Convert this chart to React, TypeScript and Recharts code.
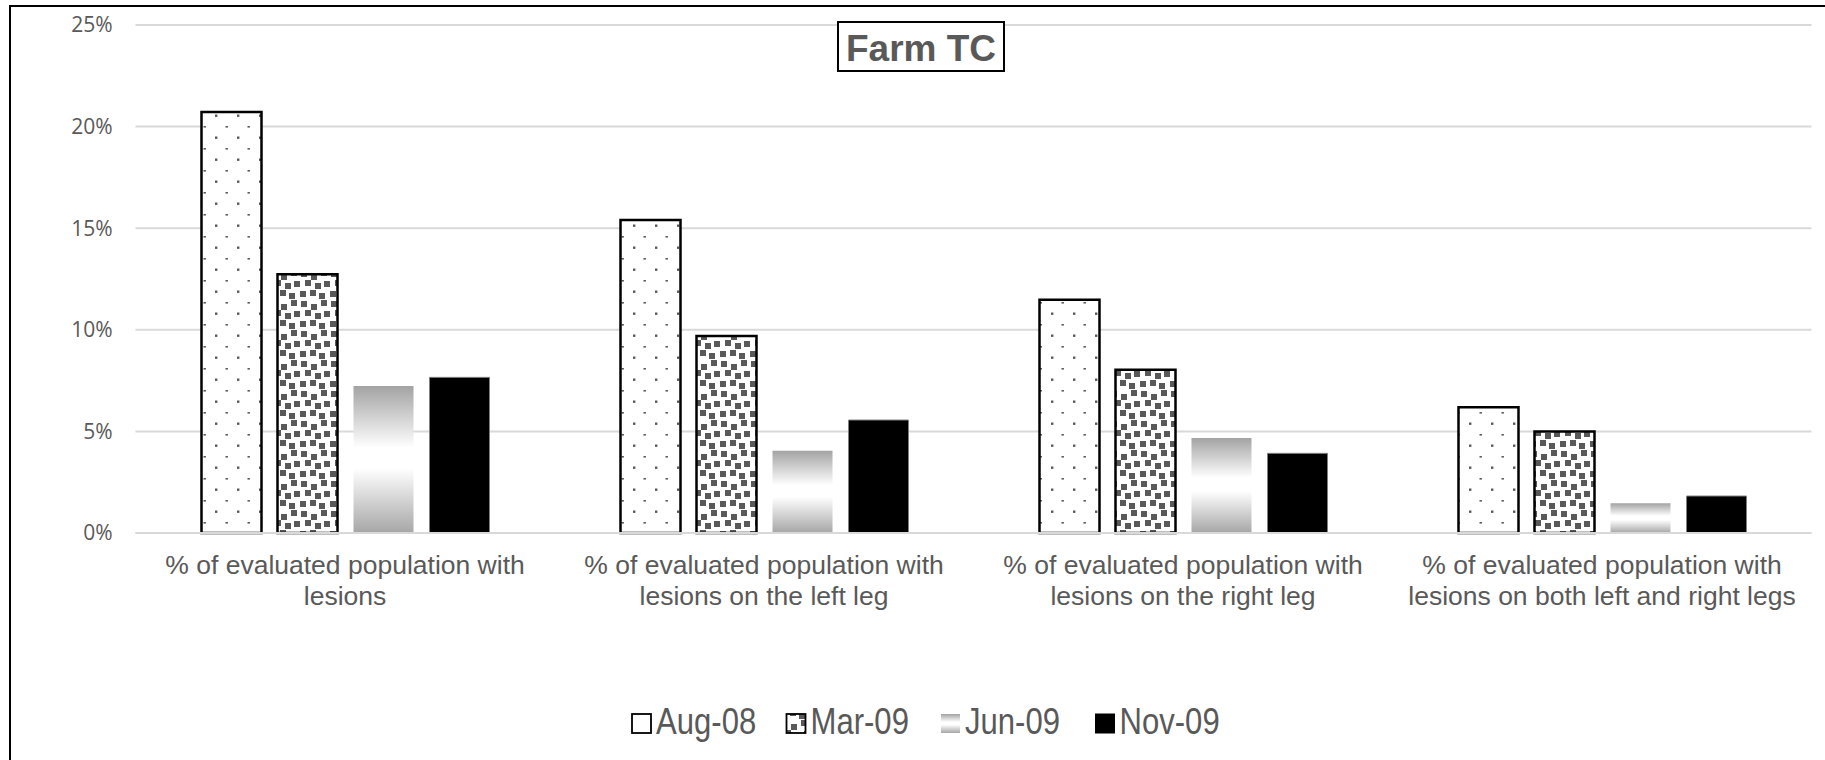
import React from "react";
import { BarChart, Bar, XAxis, YAxis, CartesianGrid, Legend } from "recharts";

const categories = [
  "% of evaluated population with lesions",
  "% of evaluated population with lesions on the left leg",
  "% of evaluated population with lesions on the right leg",
  "% of evaluated population with lesions on both left and right legs",
];
const aug08 = [20.72, 15.4, 11.48, 6.19];
const mar09 = [12.73, 9.69, 8.04, 5.0];
const jun09 = [7.23, 4.05, 4.68, 1.46];
const nov09 = [7.66, 5.56, 3.92, 1.82];
const yTicks = [0, 5, 10, 15, 20, 25];
const seriesNames = ["Aug-08", "Mar-09", "Jun-09", "Nov-09"];
const chartTitle = "Farm TC";

const data = categories.map((c, i) => ({
  name: c,
  aug08: aug08[i],
  mar09: mar09[i],
  jun09: jun09[i],
  nov09: nov09[i],
}));

const seriesKeys = ["aug08", "mar09", "jun09", "nov09"];
const fills = ["url(#dotsPat)", "url(#confettiPat)", "url(#grayGrad)", "#000000"];
const strokes = ["#000000", "#000000", "none", "#7f7f7f"];
const strokeWidths = [2.5, 2.5, 0, 1];

const textColor = "#595959";
const arialStack = "'Liberation Sans', Arial, sans-serif";

function splitLabel(s: string): string[] {
  const k = s.indexOf("with ");
  if (k < 0) return [s];
  return [s.slice(0, k + 4), s.slice(k + 5)];
}

const CategoryTick = (props: any) => {
  const { x, y, payload } = props;
  const lines = splitLabel(String(payload.value));
  return (
    <g transform={`translate(${x},${y})`}>
      {lines.map((l, i) => (
        <text
          key={i}
          x={0}
          y={41 + i * 30.5}
          textAnchor="middle"
          fontFamily={arialStack}
          fontSize={26.5}
          fill={textColor}
        >
          {l}
        </text>
      ))}
    </g>
  );
};

const squares: [number, number][] = [
  [1, 1], [11, 4], [21, 0],
  [5, 10], [15, 13], [24, 11],
  [0, 21], [10, 20], [19, 23],
];

const renderLegend = () => (
  <svg width={1825} height={62} style={{ display: "block" }}>
    {seriesNames.map((n, i) => {
      const ix = 632 + i * 154.5;
      return (
        <g key={n}>
          <rect
            x={ix}
            y={24}
            width={19}
            height={19}
            fill={i === 0 ? "#ffffff" : fills[i]}
            stroke={i === 2 ? "none" : "#000000"}
            strokeWidth={i === 3 ? 1 : 1.8}
          />
          <text
            transform={`translate(${ix + 24},44) scale(0.84,1)`}
            fontFamily={arialStack}
            fontSize={37}
            fill={textColor}
          >
            {n}
          </text>
        </g>
      );
    })}
  </svg>
);

export default function App() {
  return (
    <div
      style={{
        position: "absolute",
        left: 0,
        top: 0,
        width: 1825,
        height: 760,
        overflow: "hidden",
        background: "#ffffff",
      }}
    >
      <svg width={0} height={0} style={{ position: "absolute" }}>
        <defs>
          <pattern id="dotsPat" patternUnits="userSpaceOnUse" width={22} height={22} x={0} y={0}>
            <rect x={0} y={0} width={22} height={22} fill="#ffffff" />
            <rect x={17} y={4.5} width={2.4} height={2.4} fill="#595959" />
            <rect x={5.5} y={16} width={2.4} height={1.6} fill="#595959" />
          </pattern>
          <pattern id="confettiPat" patternUnits="userSpaceOnUse" width={30} height={30} x={0} y={0}>
            <rect x={0} y={0} width={30} height={30} fill="#ffffff" />
            {squares.map(([sx, sy], i) => (
              <rect key={i} x={sx} y={sy} width={6} height={6} fill="#595959" />
            ))}
          </pattern>
          <linearGradient id="grayGrad" x1="0" y1="0" x2="0" y2="1">
            <stop offset="0" stopColor="#a3a3a3" />
            <stop offset="0.42" stopColor="#ffffff" />
            <stop offset="0.56" stopColor="#ffffff" />
            <stop offset="1" stopColor="#a6a6a6" />
          </linearGradient>
        </defs>
      </svg>
      <BarChart
        width={1825}
        height={760}
        data={data}
        margin={{ top: 25, right: 13.5, left: 55.5, bottom: 85 }}
        barGap={16}
        barSize={60}
      >
        <CartesianGrid horizontal={true} vertical={false} stroke="#d9d9d9" strokeWidth={2} />
        <XAxis
          dataKey="name"
          axisLine={{ stroke: "#d9d9d9", strokeWidth: 2 }}
          tickLine={false}
          tickSize={0}
          tickMargin={0}
          height={80}
          interval={0}
          tick={<CategoryTick />}
        />
        <YAxis
          width={80}
          domain={[0, 25]}
          ticks={yTicks}
          axisLine={false}
          tickLine={false}
          tickSize={0}
          tickMargin={23}
          tickFormatter={(v: number) => `${v}%`}
          tick={{ fontFamily: "'Open Sans', sans-serif", fontSize: 21, fill: textColor }}
        />
        <Legend
          verticalAlign="bottom"
          height={62}
          content={renderLegend}
          wrapperStyle={{ left: 0, top: 690, bottom: "auto", width: 1825, height: 62 }}
        />
        {seriesKeys.map((k, i) => (
          <Bar
            key={k}
            dataKey={k}
            name={seriesNames[i]}
            fill={fills[i]}
            stroke={strokes[i]}
            strokeWidth={strokeWidths[i]}
            isAnimationActive={false}
          />
        ))}
      </BarChart>
      <div
        style={{
          position: "absolute",
          left: 837,
          top: 21,
          width: 168,
          height: 51,
          boxSizing: "border-box",
          border: "2px solid #000000",
          background: "#ffffff",
          color: textColor,
          fontFamily: arialStack,
          fontWeight: "bold",
          fontSize: 37,
          lineHeight: "51px",
          textAlign: "center",
          whiteSpace: "nowrap",
          overflow: "visible",
        }}
      >
        {chartTitle}
      </div>
      <div
        style={{
          position: "absolute",
          left: 9,
          top: 5,
          width: 1830,
          height: 770,
          boxSizing: "border-box",
          border: "2px solid #000000",
          pointerEvents: "none",
        }}
      />
    </div>
  );
}
